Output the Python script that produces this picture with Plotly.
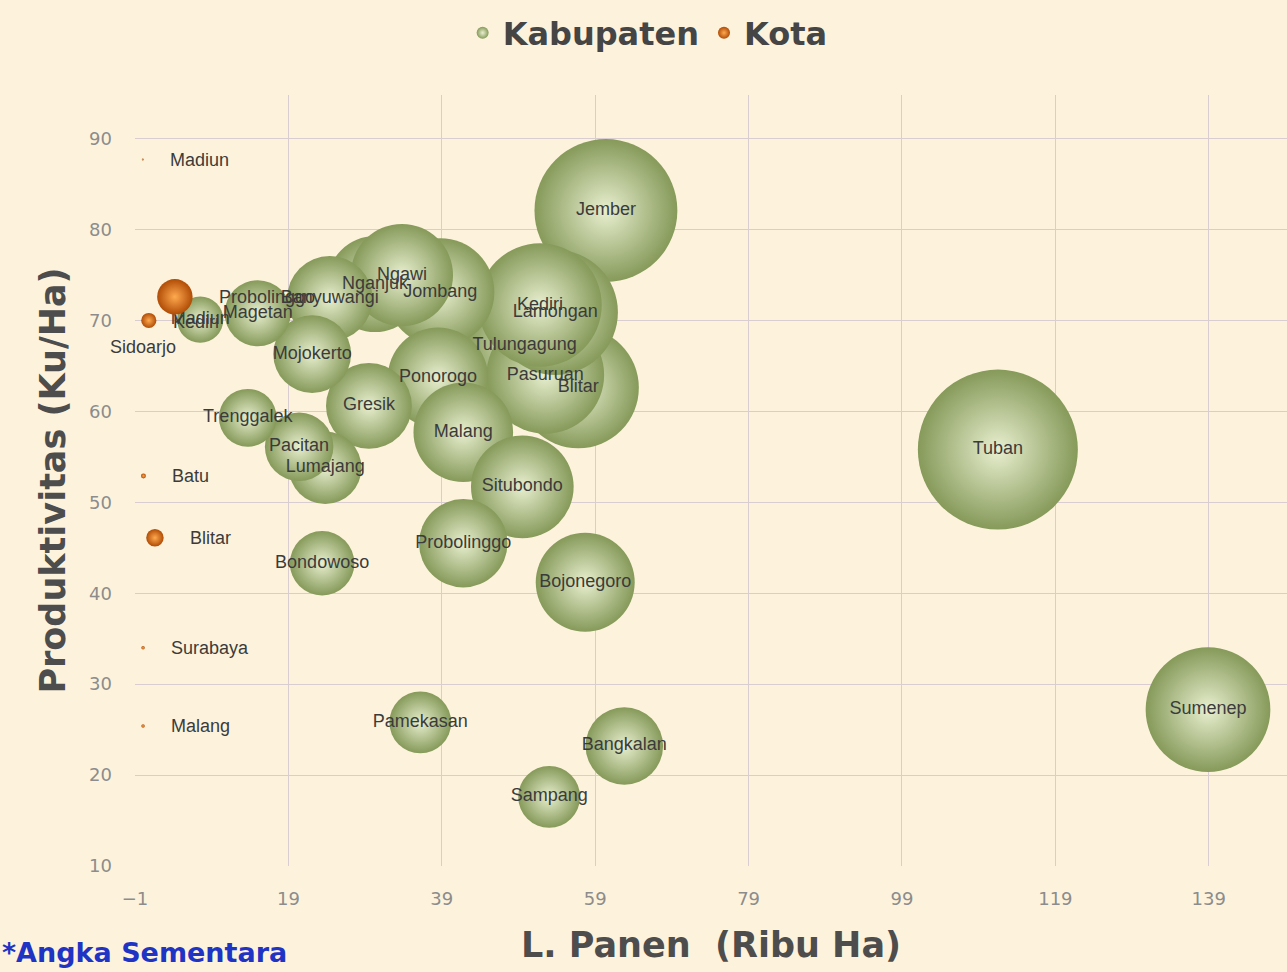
import plotly.graph_objects as go
import math

# ---------------- data ----------------
kab_names = ["Tuban", "Sumenep", "Jember", "Blitar", "Tulungagung", "Pasuruan",
             "Lamongan", "Kediri", "Jombang", "Nganjuk", "Ngawi", "Banyuwangi",
             "Ponorogo", "Malang", "Situbondo", "Probolinggo", "Bojonegoro",
             "Gresik", "Mojokerto", "Lumajang", "Pacitan", "Bondowoso", "Magetan",
             "Trenggalek", "Madiun", "Bangkalan", "Sampang", "Pamekasan"]
kab_panen = [111.5, 138.9, 60.4, 56.8, 49.8, 52.5,
             53.8, 51.8, 38.8, 30.3, 33.8, 24.4,
             38.5, 41.8, 49.5, 41.8, 57.7,
             29.5, 22.1, 23.8, 20.4, 23.4, 15.0,
             13.7, 7.5, 62.8, 53.0, 36.2]
kab_produktivitas = [55.8, 27.2, 82.1, 62.6, 67.3, 64.0,
                     70.9, 71.7, 73.1, 74.0, 75.0, 72.4,
                     63.7, 57.7, 51.7, 45.5, 41.2,
                     60.6, 66.3, 53.8, 56.1, 43.3, 70.8,
                     59.3, 70.1, 23.2, 17.6, 25.8]
kab_produksi = [622, 378, 496, 356, 335, 336,
                381, 371, 284, 224, 254, 177,
                245, 241, 256, 190, 238,
                179, 147, 128, 114, 101, 106,
                81, 52, 146, 93, 93]

kota_names = ["Madiun", "Kediri", "Probolinggo", "Sidoarjo", "Batu", "Blitar",
              "Surabaya", "Malang"]
kota_panen = [0.02, 0.4, 4.2, 0.8, 0.1, 1.6, 0.05, 0.05]
kota_produktivitas = [87.7, 69.8, 72.6, 70.0, 52.9, 46.1, 34.0, 25.4]
kota_produksi = [0.1, 0.1, 30.5, 5.6, 0.6, 7.4, 0.3, 0.3]

x_tickvals = [-1, 19, 39, 59, 79, 99, 119, 139]
y_tickvals = [10, 20, 30, 40, 50, 60, 70, 80, 90]

# ---------------- styles ----------------
W, H = 1287, 972
M_L, M_R, M_T, M_B = 135, 0, 95, 106
BG = "#fdf3dc"
GRID = "#dacdd2"
SIZEREF = 622 / (2 * 80 ** 2)
LABEL_FONT = dict(family="Liberation Sans, Arial, sans-serif", size=18, color="#3b3b3b")
TICK_FONT = dict(family="DejaVu Sans, sans-serif", size=18, color="#8c8c8c")
TITLE_FONT = dict(family="DejaVu Sans, sans-serif", size=35, color="#4d4d4d", weight="bold")

kota_label_style = {"Sidoarjo": dict(xanchor="center", xshift=-6, yshift=-27)}

fig = go.Figure()

fig.add_trace(go.Scatter(
    x=kab_panen, y=kab_produktivitas, name="Kabupaten",
    mode="markers+text", text=kab_names, textposition="middle center",
    textfont=LABEL_FONT,
    marker=dict(size=kab_produksi, sizemode="area", sizeref=SIZEREF,
                color="#869a5a", opacity=1, line=dict(width=0),
                gradient=dict(type="radial", color="#e8efcf")),
    hoverinfo="skip", cliponaxis=True,
))

fig.add_trace(go.Scatter(
    x=kota_panen, y=kota_produktivitas, name="Kota",
    mode="markers",
    marker=dict(size=kota_produksi, sizemode="area", sizeref=SIZEREF,
                color="#b04c06", opacity=1, line=dict(width=0),
                gradient=dict(type="radial", color="#ffa94f")),
    hoverinfo="skip", cliponaxis=False,
))

annotations = []
for name, xv, yv, pv in zip(kota_names, kota_panen, kota_produktivitas, kota_produksi):
    r = math.sqrt(pv / 2 / SIZEREF)
    st = dict(xanchor="left", xshift=r + 24, yshift=0)
    st.update(kota_label_style.get(name, {}))
    annotations.append(dict(x=xv, y=yv, xref="x", yref="y", text=name,
                            showarrow=False, font=LABEL_FONT, **st))

plot_w = W - M_L - M_R
plot_h = H - M_T - M_B
annotations.append(dict(
    text="*Angka Sementara", xref="paper", yref="paper",
    x=(0 - M_L) / plot_w, y=(H - M_B - 952) / plot_h,
    xanchor="left", yanchor="middle", showarrow=False,
    font=dict(family="DejaVu Sans, sans-serif", size=27, color="#1f33c4", weight="bold"),
))

fig.update_layout(
    width=W, height=H,
    margin=dict(l=M_L, r=M_R, t=M_T, b=M_B, autoexpand=False),
    paper_bgcolor=BG, plot_bgcolor=BG,
    showlegend=True,
    legend=dict(orientation="h", xref="paper", x=0.445, xanchor="center",
                yref="container", y=1 - 33 / H, yanchor="middle",
                font=dict(family="DejaVu Sans, sans-serif", size=32, color="#454545",
                          weight="bold"),
                itemsizing="constant", bgcolor="rgba(0,0,0,0)", itemwidth=30),
    annotations=annotations,
    xaxis=dict(range=[-1, 149.2], tickmode="array", tickvals=x_tickvals,
               showgrid=True, gridcolor=GRID, gridwidth=1.2, zeroline=False,
               showline=False, tickfont=TICK_FONT, ticklabelstandoff=20,
               automargin=False,
               title=dict(text="L. Panen  (Ribu Ha)", font=TITLE_FONT, standoff=24)),
    yaxis=dict(range=[10, 94.8], tickmode="array", tickvals=y_tickvals,
               showgrid=True, gridcolor=GRID, gridwidth=1.2, zeroline=False,
               showline=False, tickfont=TICK_FONT, ticklabelstandoff=22,
               automargin=False,
               title=dict(text="Produktivitas (Ku/Ha)", font=TITLE_FONT, standoff=12)),
)

fig.write_html("out.html",
               config={"displayModeBar": False},
               post_script="document.body.style.margin='0';"
                           "document.body.style.background='" + BG + "';")
